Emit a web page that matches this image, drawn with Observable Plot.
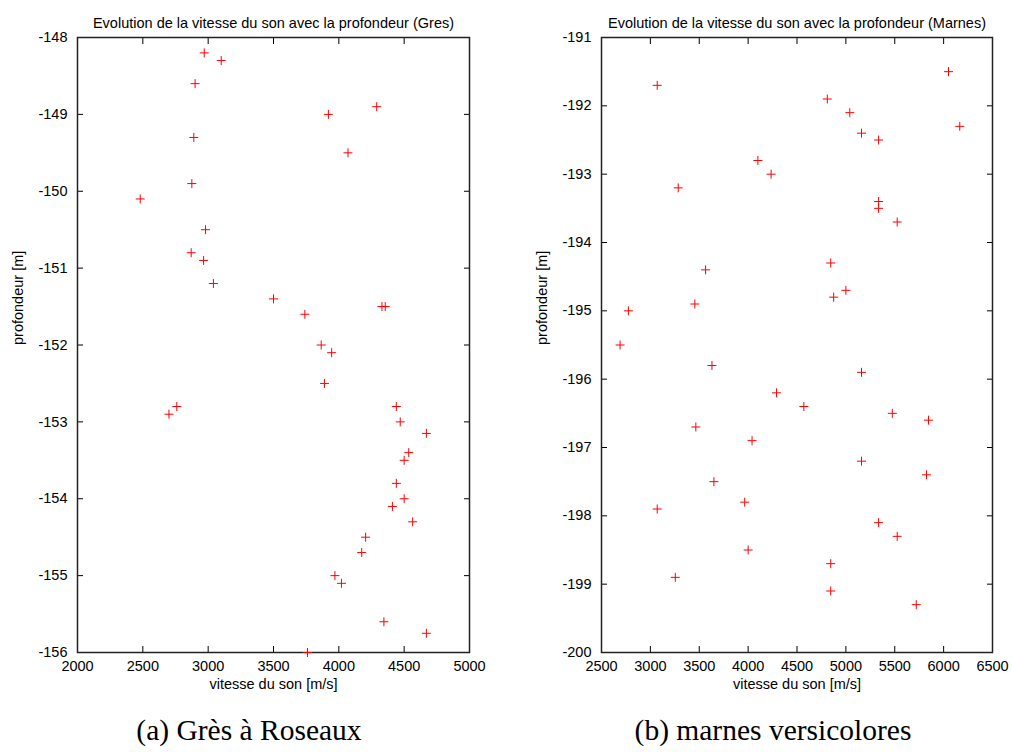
<!DOCTYPE html>
<html><head><meta charset="utf-8">
<script src="https://cdn.jsdelivr.net/npm/d3@7"></script>
<script src="https://cdn.jsdelivr.net/npm/@observablehq/plot@0.6"></script>
<style>
body{margin:0;background:#fff;width:1013px;height:752px;position:relative;overflow:hidden}
.p{position:absolute;top:0}
.cap{position:absolute;top:713px;font-family:"Liberation Serif",serif;font-size:29.5px;transform:translateX(-50%);white-space:nowrap;color:#000;line-height:1.2}
</style></head><body>
<div id="left" class="p" style="left:0"></div>
<div id="right" class="p" style="left:524px"></div>
<div class="cap" style="left:249px">(a) Grès à Roseaux</div>
<div class="cap" style="left:773px">(b) marnes versicolores</div>
<script>
// Grès à Roseaux
const gresVitesse = [2970,3100,2900,4290,3920,2890,4070,2875,2480,2980,2870,2965,3040,3500,3740,4330,4355,3865,3945,3890,2760,2700,4440,4470,4670,4535,4500,4440,4500,4410,4565,4205,4175,3970,4020,4345,4670,3760];
const gresProfondeur = [-148.2,-148.3,-148.6,-148.9,-149.0,-149.3,-149.5,-149.9,-150.1,-150.5,-150.8,-150.9,-151.2,-151.4,-151.6,-151.5,-151.5,-152.0,-152.1,-152.5,-152.8,-152.9,-152.8,-153.0,-153.15,-153.4,-153.5,-153.8,-154.0,-154.1,-154.3,-154.5,-154.7,-155.0,-155.1,-155.6,-155.75,-156.0];
const gresXTicks = [2000,2500,3000,3500,4000,4500,5000];
const gresYTicks = [-156,-155,-154,-153,-152,-151,-150,-149,-148];

// marnes versicolores
const marnesVitesse = [3070,6050,4810,5040,5160,5335,6165,4100,4235,3285,5335,5335,5525,4845,3565,3455,2775,4875,5000,2690,3630,5160,4290,4570,5475,5845,3465,4040,5160,5825,3650,3965,3070,5335,5525,4000,4845,3255,4845,5720];
const marnesProfondeur = [-191.7,-191.5,-191.9,-192.1,-192.4,-192.5,-192.3,-192.8,-193.0,-193.2,-193.4,-193.5,-193.7,-194.3,-194.4,-194.9,-195.0,-194.8,-194.7,-195.5,-195.8,-195.9,-196.2,-196.4,-196.5,-196.6,-196.7,-196.9,-197.2,-197.4,-197.5,-197.8,-197.9,-198.1,-198.3,-198.5,-198.7,-198.9,-199.1,-199.3];
const marnesXTicks = [2500,3000,3500,4000,4500,5000,5500,6000,6500];
const marnesYTicks = [-200,-199,-198,-197,-196,-195,-194,-193,-192,-191];

const xLabel = "vitesse du son [m/s]";
const yLabel = "profondeur [m]";

function chart({vit, prof, xTicks, yTicks, title, width, marginRight}) {
  const data = vit.map((v, i) => ({v, p: prof[i]}));
  const fmt = d => String(d);
  const fs = 14.5;
  return Plot.plot({
    width, height: 700,
    marginLeft: 77, marginRight, marginTop: 37, marginBottom: 48,
    style: {fontFamily: '"Liberation Sans", Arial, sans-serif', fontSize: fs + "px", color: "#000", background: "#fff"},
    x: {domain: [xTicks[0], xTicks[xTicks.length - 1]]},
    y: {domain: [yTicks[0], yTicks[yTicks.length - 1]]},
    marks: [
      Plot.axisX(xTicks, {anchor: "bottom", tickSize: -6, tickPadding: 14, tickFormat: fmt, label: null, fontSize: fs}),
      Plot.axisX(xTicks, {anchor: "top", tickSize: -6, tickFormat: () => "", label: null}),
      Plot.axisY(yTicks, {anchor: "left", tickSize: -6, tickPadding: 16, tickFormat: fmt, label: null, fontSize: fs}),
      Plot.axisY(yTicks, {anchor: "right", tickSize: -6, tickFormat: () => "", label: null}),
      Plot.frame({stroke: "#222", strokeWidth: 1.5}),
      Plot.dot(data, {x: "v", y: "p", symbol: "plus", r: 3, stroke: "red", strokeWidth: 1}),
      Plot.text([title], {frameAnchor: "top", dy: -20, text: d => d, fontSize: fs}),
      Plot.text([xLabel], {frameAnchor: "bottom", dy: 36, text: d => d, fontSize: fs}),
      Plot.text([yLabel], {frameAnchor: "left", dx: -59, rotate: -90, text: d => d, fontSize: fs})
    ]
  });
}

document.getElementById("left").append(chart({
  vit: gresVitesse, prof: gresProfondeur, xTicks: gresXTicks, yTicks: gresYTicks,
  title: "Evolution de la vitesse du son avec la profondeur (Gres)", width: 506, marginRight: 37
}));
document.getElementById("right").append(chart({
  vit: marnesVitesse, prof: marnesProfondeur, xTicks: marnesXTicks, yTicks: marnesYTicks,
  title: "Evolution de la vitesse du son avec la profondeur (Marnes)", width: 489, marginRight: 21
}));
</script>
</body></html>
